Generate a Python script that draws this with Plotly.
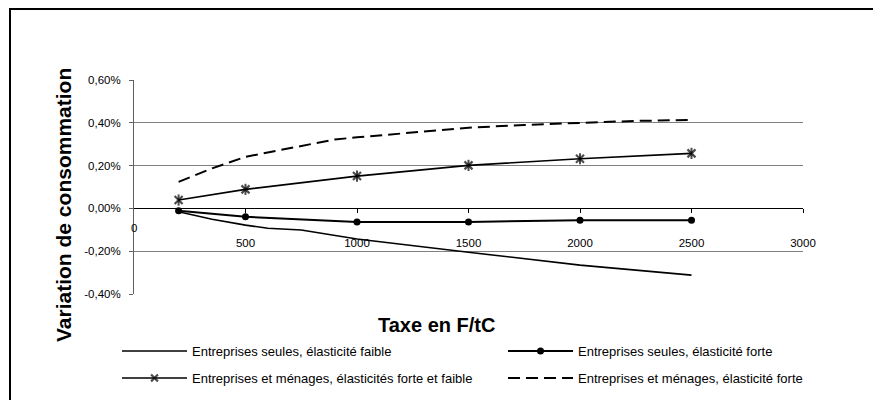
import plotly.graph_objects as go

# ---- data (values in %) ----
x_faible = [200, 350, 500, 600, 750, 1000, 1500, 2000, 2500]
y_faible = [-0.016, -0.051, -0.078, -0.093, -0.101, -0.143, -0.205, -0.265, -0.312]

x_forte = [200, 500, 1000, 1500, 2000, 2500]
y_forte = [-0.011, -0.039, -0.063, -0.063, -0.055, -0.055]

x_menages = [200, 350, 500, 1000, 1500, 2000, 2500]
y_menages = [0.039, 0.064, 0.089, 0.151, 0.201, 0.232, 0.257]
menages_marker_shown = [True, False, True, True, True, True, True]

x_menages_forte = [200, 350, 500, 750, 900, 1000, 1250, 1500, 1750, 2000, 2250, 2500]
y_menages_forte = [0.124, 0.187, 0.241, 0.293, 0.322, 0.332, 0.355, 0.377, 0.390, 0.400, 0.409, 0.413]

names = [
    "Entreprises seules, élasticité faible",
    "Entreprises seules, élasticité forte",
    "Entreprises et ménages, élasticités forte et faible",
    "Entreprises et ménages, élasticité forte",
]

y_tickvals = [-0.4, -0.2, 0.0, 0.2, 0.4, 0.6]
y_ticktext = ["-0,40%", "-0,20%", "0,00%", "0,20%", "0,40%", "0,60%"]
x_tickvals = [500, 1000, 1500, 2000, 2500, 3000]
x_ticktext = ["500", "1000", "1500", "2000", "2500", "3000"]

x_title = "Taxe en F/tC"
y_title = "Variation de consommation"

FONT = "Liberation Sans, Arial, sans-serif"

# page body adds an 8px offset; work in target (window) pixels
OFF = 8
W, H = 881 - 2 * OFF, 408 - 2 * OFF
PL, PR, PT, PB = 134, 803, 80, 294          # plot area in window pixels
L, T = PL - OFF, PT - OFF
R, B = W - (PR - OFF), H - (PB - OFF)
pw, ph = PR - PL, PB - PT


def px_x(p):
    return (p - PL) / pw


def px_y(p):
    return (PB - p) / ph


star_sizes = [8 if s else 0 for s in menages_marker_shown]

fig = go.Figure()

fig.add_trace(go.Scatter(
    x=x_faible, y=y_faible, name=names[0], mode="lines",
    line=dict(color="black", width=1.6), legend="legend"))
fig.add_trace(go.Scatter(
    x=x_forte, y=y_forte, name=names[1], mode="lines+markers",
    line=dict(color="black", width=2),
    marker=dict(symbol="circle", size=7, color="black"), legend="legend2"))
fig.add_trace(go.Scatter(
    x=x_menages, y=y_menages, name=names[2], mode="lines+markers",
    line=dict(color="black", width=1.6),
    marker=dict(symbol="x-thin-open", size=star_sizes,
                color="#000000", line=dict(color="#000000", width=2.2)),
    legend="legend3"))
# vertical bar completing the star markers
fig.add_trace(go.Scatter(
    x=x_menages, y=y_menages, mode="markers", showlegend=False, hoverinfo="skip",
    marker=dict(symbol="line-ns-open", size=star_sizes,
                color="#000000", line=dict(color="#000000", width=2))))
fig.add_trace(go.Scatter(
    x=x_menages_forte, y=y_menages_forte, name=names[3], mode="lines",
    line=dict(color="black", width=2, dash="12px,6px"), legend="legend4"))

legend_common = dict(
    orientation="h", xanchor="left", yanchor="middle",
    font=dict(family=FONT, size=13, color="black"),
    bgcolor="rgba(0,0,0,0)", itemwidth=65, itemclick=False,
)

fig.update_layout(
    width=W, height=H,
    margin=dict(l=L, r=R, t=T, b=B, pad=0, autoexpand=False),
    paper_bgcolor="white", plot_bgcolor="white",
    font=dict(family=FONT, size=11, color="black"),
    xaxis=dict(
        range=[0, 3000], tickvals=x_tickvals, ticktext=x_ticktext,
        anchor="free", position=0.4,
        showline=True, linecolor="black", linewidth=1,
        ticks="outside", ticklen=4, tickcolor="black",
        showgrid=False, zeroline=False, ticklabelstandoff=20,
        tickfont=dict(family=FONT, size=11.5, color="black"),
    ),
    yaxis=dict(
        range=[-0.4, 0.6], tickvals=y_tickvals, ticktext=y_ticktext,
        showline=True, linecolor="#606060", linewidth=1,
        ticks="outside", ticklen=4, tickcolor="#606060",
        showgrid=True, gridcolor="#808080", gridwidth=1,
        zeroline=False, ticklabelstandoff=6,
        tickfont=dict(family=FONT, size=11.5, color="black"),
    ),
    legend=dict(x=px_x(122 - 5), y=px_y(351), **legend_common),
    legend2=dict(x=px_x(508 - 5), y=px_y(351), **legend_common),
    legend3=dict(x=px_x(122 - 5), y=px_y(378), **legend_common),
    legend4=dict(x=px_x(508 - 5), y=px_y(378), **legend_common),
    showlegend=True,
)

fig.add_annotation(x=0, y=-0.092, xref="x", yref="y", text="0", showarrow=False,
                   xanchor="center", yanchor="middle",
                   font=dict(family=FONT, size=11.5, color="black"))
fig.add_annotation(x=px_x(63), y=px_y(205), xref="paper", yref="paper", text=y_title,
                   textangle=-90, showarrow=False, xanchor="center", yanchor="middle",
                   font=dict(family=FONT, size=21, color="black", weight="bold"))
fig.add_annotation(x=px_x(436), y=px_y(325), xref="paper", yref="paper", text=x_title,
                   showarrow=False, xanchor="center", yanchor="middle",
                   font=dict(family=FONT, size=20, color="black", weight="bold"))

# outer frame (only left and top edges visible in the crop)
fig.add_shape(type="line", xref="paper", yref="paper",
              x0=px_x(10), x1=px_x(10), y0=px_y(8), y1=px_y(430),
              line=dict(color="black", width=2))
fig.add_shape(type="line", xref="paper", yref="paper",
              x0=px_x(10), x1=px_x(900), y0=px_y(9), y1=px_y(9),
              line=dict(color="black", width=2))

fig.write_html("out.html")
